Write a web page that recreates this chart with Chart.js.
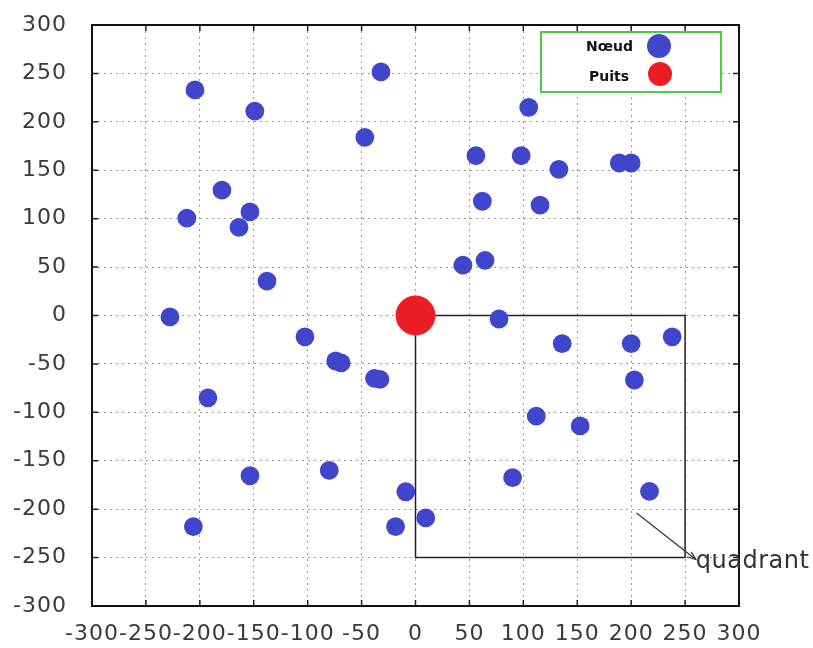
<!DOCTYPE html>
<html>
<head>
<meta charset="utf-8">
<script src="https://cdn.jsdelivr.net/npm/chart.js@4/dist/chart.umd.min.js"></script>
<style>
html,body{margin:0;padding:0;background:#fff;}
#wrap{width:813px;height:648px;}
</style>
</head>
<body>
<div id="wrap"><canvas id="c" width="813" height="648"></canvas></div>
<script>
// ---- data ----
const nodeX = [-204.5,-149,-32,-47,105,56,98,133,189,200,62,115.5,-179.5,-212,-153.5,-163.7,-137.7,44,64.5,-227.7,-102.5,-74,-69,-38,-33,-192.5,-153.5,-80,-9,-18.5,9.5,-206,77.5,136,200,238,203,112,152.7,90,217];
const nodeY = [233,211,251.5,184,215,165,165,151,157.5,157.5,118,114,129.5,100.5,107,91,35.6,52,57,-1.5,-22,-47,-49,-65,-66,-85,-165.5,-160,-182,-218,-209,-218,-3.6,-29,-29,-22,-66.6,-104,-114,-167.5,-181.6];
const sinkX = [0];
const sinkY = [0];
const quadrantX = [0,250,250,0,0];
const quadrantY = [0,0,-250,-250,0];
const arrowFrom = [205,-204];
const arrowTo = [260,-252];
const annotationText = "quadrant";
const tickValues = [-300,-250,-200,-150,-100,-50,0,50,100,150,200,250,300];
const legendLabels = ["Nœud","Puits"];

const BLUE = '#3f46cc';
const RED = '#ec1c24';

const toPts = (xs, ys) => xs.map((x,i)=>({x:x,y:ys[i]}));

const spacingPlugin = {
  id:'spacing',
  beforeUpdate(chart){ chart.ctx.letterSpacing = '1px'; },
  beforeLayout(chart){ chart.ctx.letterSpacing = '1px'; },
  beforeDraw(chart){ chart.ctx.letterSpacing = '1px'; }
};

const framePlugin = {
  id:'frame',
  afterDraw(chart){
    const ctx = chart.ctx, a = chart.chartArea;
    const xs = chart.scales.x, ys = chart.scales.y;
    ctx.save();
    ctx.letterSpacing = '0px';
    // inward ticks
    ctx.strokeStyle = '#222';
    ctx.lineWidth = 1.5;
    const L = 6;
    tickValues.forEach(v=>{
      const px = xs.getPixelForValue(v);
      ctx.beginPath();
      ctx.moveTo(px,a.bottom); ctx.lineTo(px,a.bottom-L);
      ctx.moveTo(px,a.top); ctx.lineTo(px,a.top+L);
      ctx.stroke();
      const py = ys.getPixelForValue(v);
      ctx.beginPath();
      ctx.moveTo(a.left,py); ctx.lineTo(a.left+L,py);
      ctx.moveTo(a.right,py); ctx.lineTo(a.right-L,py);
      ctx.stroke();
    });
    // border
    ctx.strokeStyle = '#111';
    ctx.lineWidth = 2;
    ctx.strokeRect(a.left,a.top,a.right-a.left,a.bottom-a.top);

    // arrow
    const x0 = xs.getPixelForValue(arrowFrom[0]), y0 = ys.getPixelForValue(arrowFrom[1]);
    const x1 = xs.getPixelForValue(arrowTo[0]), y1 = ys.getPixelForValue(arrowTo[1]);
    ctx.strokeStyle = '#333';
    ctx.lineWidth = 1.2;
    ctx.beginPath(); ctx.moveTo(x0,y0); ctx.lineTo(x1,y1); ctx.stroke();
    const ang = Math.atan2(y1-y0,x1-x0);
    ctx.beginPath();
    ctx.moveTo(x1 - 9*Math.cos(ang-0.35), y1 - 9*Math.sin(ang-0.35));
    ctx.lineTo(x1,y1);
    ctx.lineTo(x1 - 9*Math.cos(ang+0.35), y1 - 9*Math.sin(ang+0.35));
    ctx.stroke();
    ctx.fillStyle = '#333';
    ctx.font = '24px "DejaVu Sans"';
    ctx.letterSpacing = '0.5px';
    ctx.textAlign = 'left';
    ctx.textBaseline = 'alphabetic';
    ctx.fillText(annotationText, x1, y1 + 8);
    ctx.letterSpacing = '0px';

    // legend
    const lx = 541, ly = 32, lw = 180, lh = 60;
    ctx.fillStyle = '#fff';
    ctx.fillRect(lx,ly,lw,lh);
    ctx.strokeStyle = '#4ccc44';
    ctx.lineWidth = 2;
    ctx.strokeRect(lx,ly,lw,lh);
    ctx.font = 'bold 14px "DejaVu Sans"';
    ctx.fillStyle = '#111';
    ctx.textAlign = 'right';
    ctx.textBaseline = 'middle';
    ctx.fillText(legendLabels[0], 633, 47);
    ctx.fillText(legendLabels[1], 629, 77);
    ctx.fillStyle = BLUE;
    ctx.beginPath(); ctx.arc(659,46,12,0,Math.PI*2); ctx.fill();
    ctx.fillStyle = RED;
    ctx.beginPath(); ctx.arc(660,74,12,0,Math.PI*2); ctx.fill();
    ctx.restore();
  }
};

new Chart(document.getElementById('c'), {
  type:'scatter',
  data:{
    datasets:[
      {label:legendLabels[1], data: toPts(sinkX,sinkY), backgroundColor:RED, borderColor:RED, pointRadius:19.5, pointHoverRadius:19.5, order:1},
      {label:legendLabels[0], data: toPts(nodeX,nodeY), backgroundColor:BLUE, borderColor:BLUE, pointRadius:9.4, pointHoverRadius:9.4, borderWidth:0, order:2},
      {label:'quadrant', data: toPts(quadrantX,quadrantY), showLine:true, borderColor:'#222', borderWidth:1.5, pointRadius:0, fill:false, order:3}
    ]
  },
  options:{
    responsive:false,
    animation:false,
    events:[],
    layout:{autoPadding:false, padding:{left:0, top:25, right:74, bottom:0}},
    plugins:{legend:{display:false}, tooltip:{enabled:false}},
    scales:{
      x:{
        type:'linear', min:-300, max:300,
        afterBuildTicks(s){ s.ticks = tickValues.map(v=>({value:v})); },
        afterFit(s){ s.height = 42; s.paddingLeft = 0; s.paddingRight = 0; },
        grid:{color:'#9a9a9a', lineWidth:1, drawTicks:false},
        border:{display:false, dash:[2,4]},
        ticks:{font:{family:'"DejaVu Sans"', size:22}, color:'#3a3a3a', padding:15, autoSkip:false, maxRotation:0, minRotation:0}
      },
      y:{
        type:'linear', min:-300, max:300,
        afterBuildTicks(s){ s.ticks = tickValues.map(v=>({value:v})); },
        afterFit(s){ s.width = 92; s.paddingTop = 0; s.paddingBottom = 0; },
        grid:{color:'#9a9a9a', lineWidth:1, drawTicks:false},
        border:{display:false, dash:[2,4]},
        ticks:{font:{family:'"DejaVu Sans"', size:22}, color:'#3a3a3a', padding:25, autoSkip:false}
      }
    }
  },
  plugins:[spacingPlugin, framePlugin]
});
</script>
</body>
</html>
